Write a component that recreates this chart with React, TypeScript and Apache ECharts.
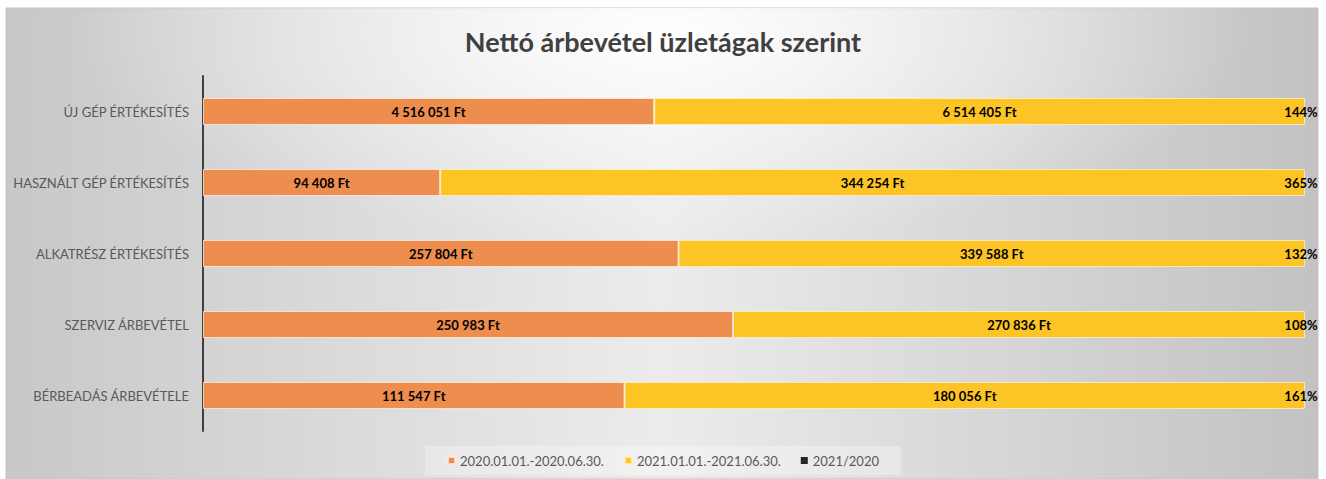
import React, { useEffect, useRef } from "react";
import * as echarts from "echarts";

const categories = [
  "ÚJ GÉP ÉRTÉKESÍTÉS",
  "HASZNÁLT GÉP ÉRTÉKESÍTÉS",
  "ALKATRÉSZ ÉRTÉKESÍTÉS",
  "SZERVIZ ÁRBEVÉTEL",
  "BÉRBEADÁS ÁRBEVÉTELE",
];
const values2020 = [4516051, 94408, 257804, 250983, 111547];
const values2021 = [6514405, 344254, 339588, 270836, 180056];
const seriesNames = ["2020.01.01.-2020.06.30.", "2021.01.01.-2021.06.30.", "2021/2020"];
const title = "Nettó árbevétel üzletágak szerint";

const ratios = values2020.map((v, i) => values2021[i] / v);
const totals = values2020.map((v, i) => v + values2021[i] + ratios[i]);
const pct2020 = values2020.map((v, i) => (v / totals[i]) * 100);
const pct2021 = values2021.map((v, i) => (v / totals[i]) * 100);
const pctRatio = ratios.map((v, i) => (v / totals[i]) * 100);

const fmtFt = (n: number) => String(n).replace(/\B(?=(\d{3})+(?!\d))/g, " ") + " Ft";
const FONT = "Lato";

export default function App() {
  const ref = useRef<HTMLDivElement>(null);
  useEffect(() => {
    document.body.style.margin = "0";
    const chart = echarts.init(ref.current!, undefined, { renderer: "svg" });
    const labelStyle = {
      show: true,
      position: "inside" as const,
      color: "#000",
      fontWeight: "bold" as const,
      fontSize: 13,
      fontFamily: FONT,
    };
    chart.setOption({
      animation: false,
      backgroundColor: "#ffffff",
      graphic: [
        {
          type: "rect",
          z: -20,
          silent: true,
          shape: { x: 6, y: 8, width: 1312, height: 471 },
          style: {
            fill: new echarts.graphic.LinearGradient(0, 0, 1, 0, [
              { offset: 0, color: "#c8c8c8" },
              { offset: 0.5, color: "#ececec" },
              { offset: 1, color: "#c2c2c2" },
            ]),
            stroke: "#c4c4c4",
            lineWidth: 1,
          },
        },
        {
          type: "rect",
          z: -19,
          silent: true,
          shape: { x: 6, y: 8, width: 1312, height: 471 },
          style: {
            fill: new echarts.graphic.RadialGradient(0.5, 0.05, 0.45, [
              { offset: 0, color: "rgba(255,255,255,0.95)" },
              { offset: 0.5, color: "rgba(255,255,255,0.45)" },
              { offset: 1, color: "rgba(255,255,255,0)" },
            ]),
          },
        },
      ],
      title: {
        text: title,
        left: "center",
        top: 23,
        textStyle: { fontFamily: FONT, fontSize: 27, fontWeight: "bold", color: "#404040" },
      },
      legend: {
        bottom: 4,
        left: "center",
        icon: "rect",
        itemWidth: 7,
        itemHeight: 7,
        itemGap: 20,
        padding: [8, 22, 8, 22],
        backgroundColor: "rgba(255,255,255,0.3)",
        textStyle: { fontFamily: FONT, fontSize: 13, color: "#595959" },
        data: seriesNames,
      },
      grid: { left: 203, right: 21, top: 76, bottom: 48, containLabel: false },
      xAxis: {
        type: "value",
        min: 0,
        max: 100,
        show: false,
      },
      yAxis: {
        type: "category",
        inverse: true,
        data: categories,
        axisLine: { show: true, lineStyle: { color: "#404040", width: 2 } },
        axisTick: { show: false },
        axisLabel: { fontFamily: FONT, fontSize: 13, color: "#595959", margin: 14 },
      },
      series: [
        {
          name: seriesNames[0],
          type: "bar",
          stack: "total",
          barWidth: 27,
          data: pct2020,
          itemStyle: { color: "#ED8D4E", borderColor: "rgba(255,235,220,0.8)", borderWidth: 1 },
          label: { ...labelStyle, formatter: (p: any) => fmtFt(values2020[p.dataIndex]) },
        },
        {
          name: seriesNames[1],
          type: "bar",
          stack: "total",
          barWidth: 27,
          data: pct2021,
          itemStyle: { color: "#FCC424", borderColor: "rgba(255,240,200,0.8)", borderWidth: 1 },
          label: { ...labelStyle, formatter: (p: any) => fmtFt(values2021[p.dataIndex]) },
        },
        {
          name: seriesNames[2],
          type: "bar",
          stack: "total",
          barWidth: 27,
          data: pctRatio,
          itemStyle: { color: "#262626" },
          label: {
            ...labelStyle,
            offset: [-4, 0],
            formatter: (p: any) => Math.round(ratios[p.dataIndex] * 100) + "%",
          },
        },
      ],
    });
    return () => chart.dispose();
  }, []);
  return <div ref={ref} style={{ width: 1326, height: 479 }} />;
}
